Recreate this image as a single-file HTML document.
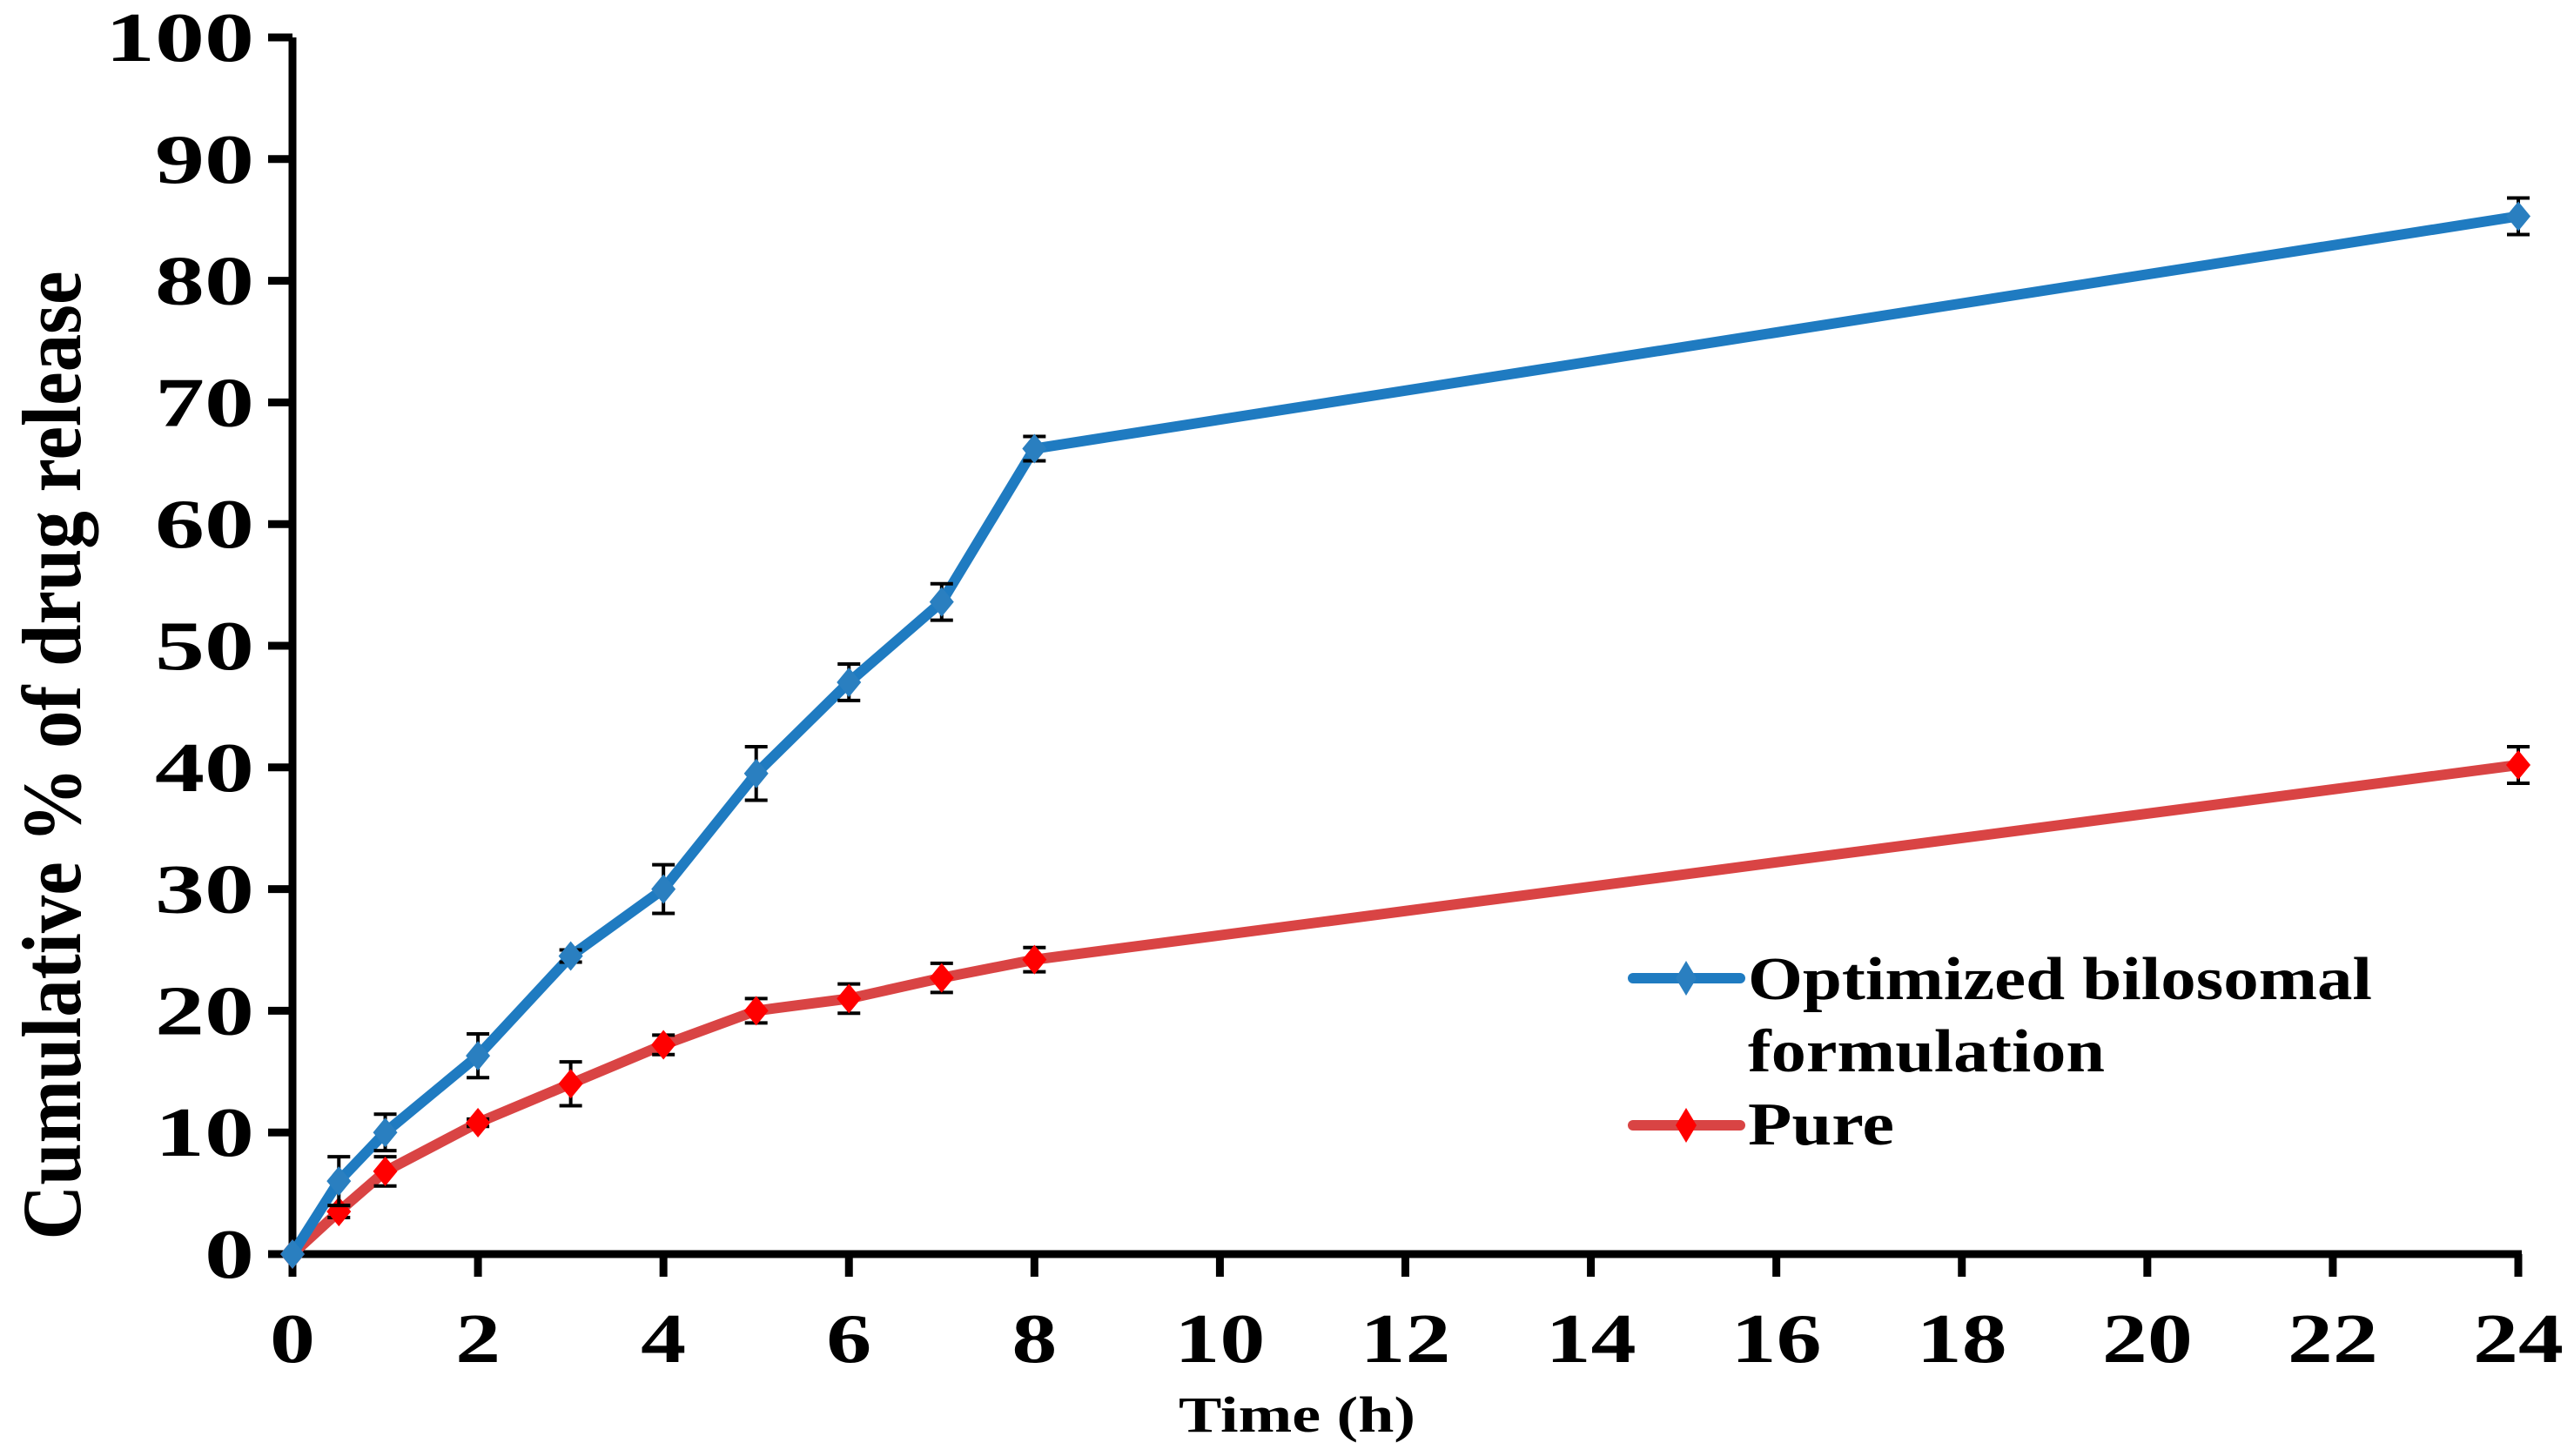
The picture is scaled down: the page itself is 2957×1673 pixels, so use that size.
<!DOCTYPE html>
<html><head><meta charset="utf-8"><style>
html,body{margin:0;padding:0;background:#fff;}
svg{display:block;font-family:"Liberation Serif",serif;font-weight:bold;}
</style></head><body>
<svg id="chart" width="2957" height="1673" viewBox="0 0 2957 1673" xmlns="http://www.w3.org/2000/svg">
<g id="axes"></g>
<g id="series"></g>
<text x="0" y="0" transform="translate(92,868) rotate(-90)" text-anchor="middle" font-size="96" textLength="1113" lengthAdjust="spacingAndGlyphs">Cumulative % of drug release</text>
<text x="1490" y="1645" text-anchor="middle" font-size="58" textLength="272" lengthAdjust="spacingAndGlyphs">Time (h)</text>
<g>
  <line x1="1876" y1="1124" x2="1999" y2="1124" stroke="#1f7bc1" stroke-width="12" stroke-linecap="round"/>
  <path d="M1937,1104 L1949,1124 L1937,1144 L1925,1124 Z" fill="#2a7fc0"/>
  <text x="2008" y="1148" font-size="70" textLength="717" lengthAdjust="spacingAndGlyphs">Optimized bilosomal</text>
  <text x="2008" y="1231" font-size="70" textLength="410" lengthAdjust="spacingAndGlyphs">formulation</text>
  <line x1="1876" y1="1293" x2="1999" y2="1293" stroke="#d94444" stroke-width="12" stroke-linecap="round"/>
  <path d="M1937,1273 L1949,1293 L1937,1313 L1925,1293 Z" fill="#ff0000"/>
  <text x="2008" y="1315" font-size="70" textLength="168" lengthAdjust="spacingAndGlyphs">Pure</text>
</g>
</svg>
<script>
const times = [0, 0.5, 1, 2, 3, 4, 5, 6, 7, 8, 24];
const optimizedValues = [0, 6, 10, 16.3, 24.5, 30, 39.5, 47, 53.6, 66.2, 85.3];
const optimizedErrors = [0, 2, 1.5, 1.8, 0.5, 2, 2.2, 1.5, 1.5, 1, 1.5];
const pureValues = [0, 3.5, 6.8, 10.8, 14, 17.2, 20, 21, 22.7, 24.2, 40.2];
const pureErrors = [0, 0.5, 1.2, 0.3, 1.8, 0.8, 1, 1.2, 1.2, 1, 1.5];
const xTicks = [0, 2, 4, 6, 8, 10, 12, 14, 16, 18, 20, 22, 24];
const yTicks = [0, 10, 20, 30, 40, 50, 60, 70, 80, 90, 100];

const NS = "http://www.w3.org/2000/svg";
const X0 = 336, X1 = 2893, Y0 = 1441, Y1 = 43;
function sx(v){ return X0 + (v - 0) / 24 * (X1 - X0); }
function sy(v){ return Y0 - (v - 0) / 100 * (Y0 - Y1); }
function mk(tag, attrs, parent){
  const e = document.createElementNS(NS, tag);
  for (const k in attrs) e.setAttribute(k, attrs[k]);
  parent.appendChild(e);
  return e;
}
const axes = document.getElementById('axes');
const series = document.getElementById('series');

let el = mk('line', {x1: X0, y1: sy(100), x2: X0, y2: Y0 + 4, stroke: '#000', 'stroke-width': 9}, axes);


el = mk('line', {x1: X0 - 4, y1: Y0, x2: X1 + 4, y2: Y0, stroke: '#000', 'stroke-width': 9}, axes);



yTicks.forEach(function(t){
  const y = sy(t);
  let tk = mk('line', {x1: X0 - 28, y1: y, x2: X0, y2: y, stroke: '#000', 'stroke-width': 9}, axes);
  
  
  const s = String(t);
  let lb = mk('text', {x: 292, y: y + 27, 'text-anchor': 'end', 'font-size': 80, textLength: s.length * 57, lengthAdjust: 'spacingAndGlyphs'}, axes);
  lb.textContent = s;
  
  
});
xTicks.forEach(function(t){
  const x = sx(t);
  let tk = mk('line', {x1: x, y1: Y0, x2: x, y2: Y0 + 26, stroke: '#000', 'stroke-width': 9}, axes);
  
  
  const s = String(t);
  let lb = mk('text', {x: x, y: 1565, 'text-anchor': 'middle', 'font-size': 80, textLength: s.length * 52, lengthAdjust: 'spacingAndGlyphs'}, axes);
  lb.textContent = s;
  
  
});

function drawSeries(name, vals, errs, lineColor, markerColor){
  const g = mk('g', {}, series);
  
  
  const pts = times.map(function(t, i){ return sx(t) + ',' + sy(vals[i]); }).join(' ');
  const pl = mk('polyline', {points: pts, fill: 'none', stroke: lineColor, 'stroke-width': 12, 'stroke-linejoin': 'round'}, g);
  
  
  times.forEach(function(t, i){
    const x = sx(t), y = sy(vals[i]);
    if (errs[i] > 0){
      const yt = sy(vals[i] + errs[i]), yb = sy(vals[i] - errs[i]);
      const eb = mk('path', {d: 'M' + x + ',' + yt + 'V' + yb + 'M' + (x - 13) + ',' + yt + 'H' + (x + 13) + 'M' + (x - 13) + ',' + yb + 'H' + (x + 13), stroke: '#000', 'stroke-width': 4, fill: 'none'}, g);
      
      
    }
    const m = mk('path', {d: 'M' + x + ',' + (y - 17) + 'L' + (x + 14) + ',' + y + 'L' + x + ',' + (y + 17) + 'L' + (x - 14) + ',' + y + 'Z', fill: markerColor}, g);
    
    
  });
}
drawSeries('pure', pureValues, pureErrors, '#d94444', '#ff0000');
drawSeries('optimized', optimizedValues, optimizedErrors, '#1f7bc1', '#2a7fc0');
</script>
</body></html>
